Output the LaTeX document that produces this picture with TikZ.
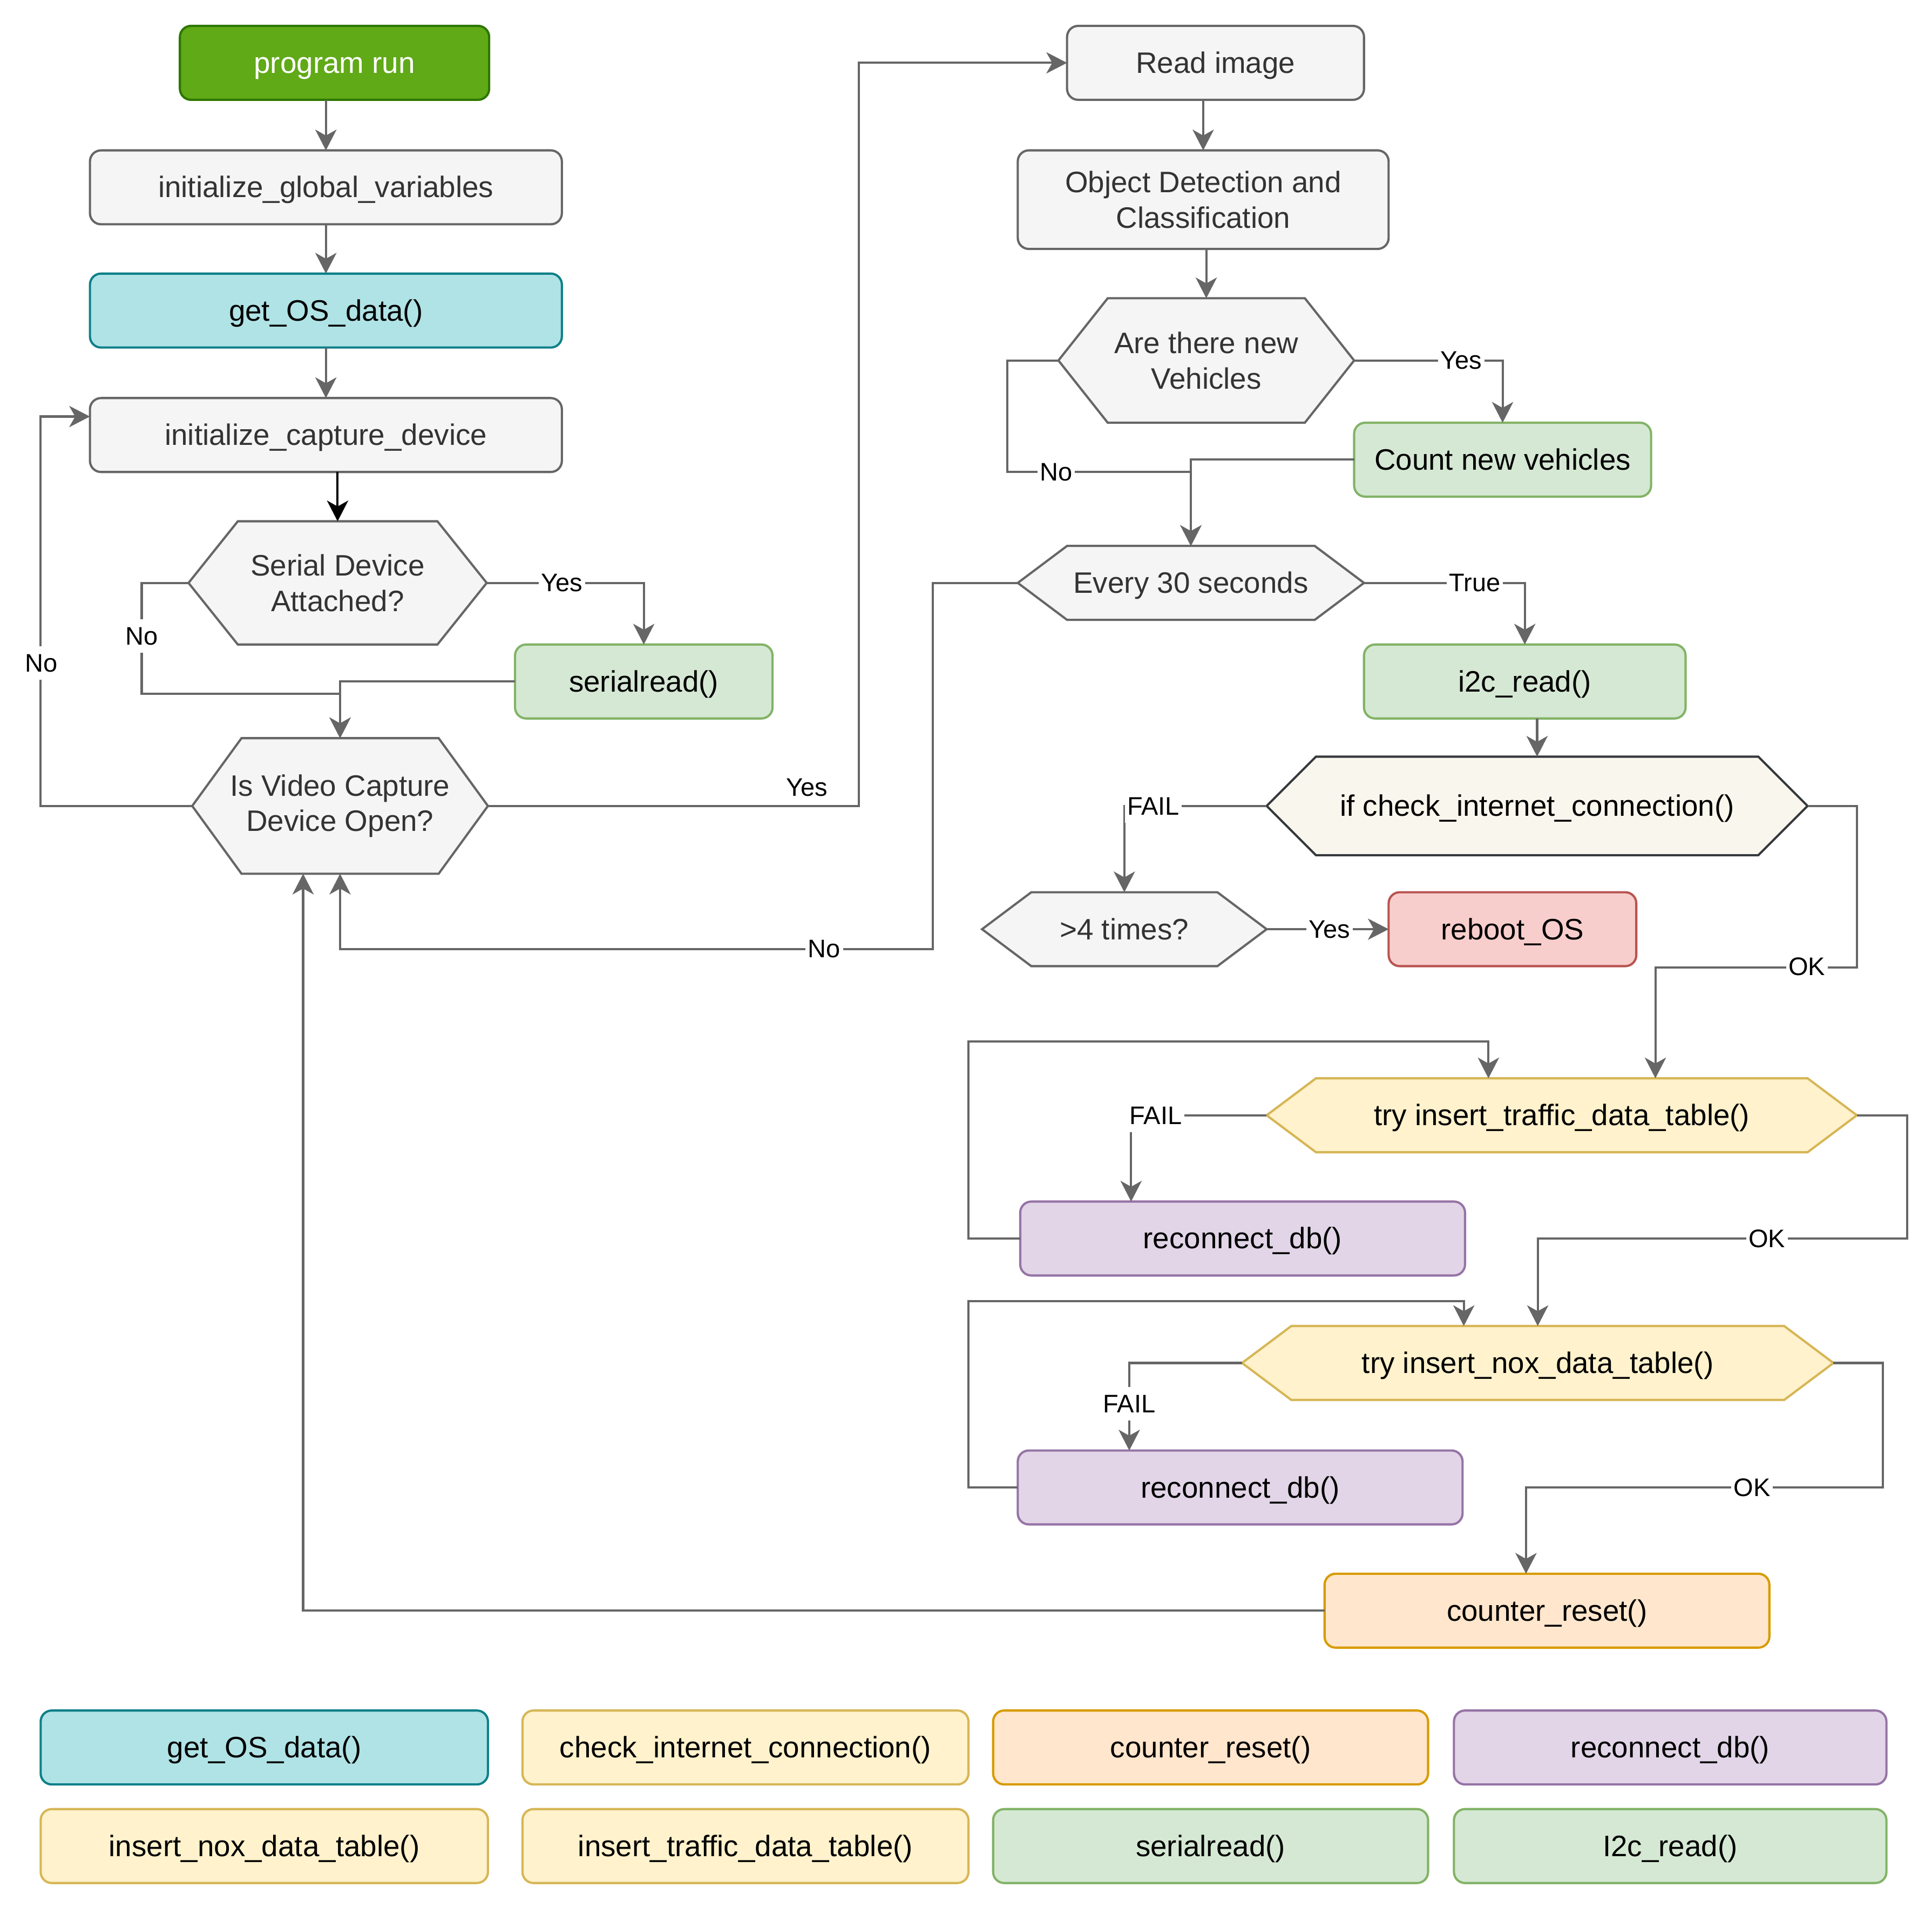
\documentclass[tikz,border=0pt]{standalone}
\usepackage{fontspec}
\setmainfont{Liberation Sans}
\usetikzlibrary{arrows.meta,calc}
\definecolor{grayfill}{HTML}{F5F5F5}
\definecolor{graystroke}{HTML}{666666}
\definecolor{graytext}{HTML}{333333}
\definecolor{prfill}{HTML}{60A917}
\definecolor{prstroke}{HTML}{2D7600}
\definecolor{osfill}{HTML}{B0E3E6}
\definecolor{osstroke}{HTML}{0E8088}
\definecolor{grfill}{HTML}{D5E8D4}
\definecolor{grstroke}{HTML}{82B366}
\definecolor{yefill}{HTML}{FFF2CC}
\definecolor{yestroke}{HTML}{D6B656}
\definecolor{orfill}{HTML}{FFE6CC}
\definecolor{orstroke}{HTML}{D79B00}
\definecolor{pufill}{HTML}{E1D5E7}
\definecolor{pustroke}{HTML}{9673A6}
\definecolor{redfill}{HTML}{F8CECC}
\definecolor{redstroke}{HTML}{B85450}
\definecolor{chkfill}{HTML}{F9F7ED}
\definecolor{chkstroke}{HTML}{36393D}
\newcommand\mainsz{\fontsize{12pt}{14.4pt}\selectfont}
\newcommand\lblsz{\fontsize{10.3pt}{12pt}\selectfont}
\tikzset{
  box/.style={draw, rounded corners=4.5pt, line width=0.9pt, inner sep=2pt, outer sep=0pt, align=center, font=\mainsz},
  oneline/.style={text height=10.9pt, text depth=2.6pt},
  graybox/.style={box, fill=grayfill, draw=graystroke, text=graytext},
  osbox/.style={box, oneline, fill=osfill, draw=osstroke, text=black},
  grbox/.style={box, oneline, fill=grfill, draw=grstroke, text=black},
  yebox/.style={box, oneline, fill=yefill, draw=yestroke, text=black},
  orbox/.style={box, oneline, fill=orfill, draw=orstroke, text=black},
  pubox/.style={box, oneline, fill=pufill, draw=pustroke, text=black},
  redbox/.style={box, oneline, fill=redfill, draw=redstroke, text=black},
  hexshape/.style={line width=0.9pt, line join=miter},
  grayhex/.style={hexshape, fill=grayfill, draw=graystroke},
  yehex/.style={hexshape, fill=yefill, draw=yestroke},
  chkhex/.style={hexshape, fill=chkfill, draw=chkstroke},
  hexlabel/.style={inner sep=0pt, outer sep=0pt, align=center, font=\mainsz},
  conn/.style={draw=graystroke, line width=0.9pt, -{Stealth[length=8.4pt,width=8.6pt,inset=2.4pt]}},
  elabel/.style={fill=white, inner sep=1pt, font=\lblsz, text=black, text height=9.4pt, text depth=2.26pt},
}
% name, cx, cy, half width, half height, shape style, text style, text
\newcommand\hexnode[8]{%
  \path[#6] ({#2-#4},#3) -- ({#2-#4+40},{#3-#5}) -- ({#2+#4-40},{#3-#5}) -- ({#2+#4},#3) -- ({#2+#4-40},{#3+#5}) -- ({#2-#4+40},{#3+#5}) -- cycle;
  \node[hexlabel,#7,minimum width=#4pt,minimum height=#5pt] (#1) at (#2,#3) {#8};
}
\begin{document}
\begin{tikzpicture}[x=0.5pt,y=-0.5pt]
\useasboundingbox[fill=white] (0,0) rectangle (1568,1548);

% left column
\node[box, oneline, fill=prfill, draw=prstroke, text=white, minimum width=125.5pt, minimum height=30pt] (pr) at (271.5,51) {program run};
\node[graybox, oneline, minimum width=191.5pt, minimum height=30pt] (igv) at (264.5,152) {initialize\_global\_variables};
\node[osbox, minimum width=191.5pt, minimum height=30pt] (gos) at (264.5,252) {get\_OS\_data()};
\node[graybox, oneline, minimum width=191.5pt, minimum height=30pt] (ic) at (264.5,353) {initialize\_capture\_device};
\hexnode{sda}{274}{473}{121}{50}{grayhex}{text=graytext}{Serial Device\\Attached?}
\node[grbox, minimum width=104.5pt, minimum height=30pt] (sr) at (522.5,553) {serialread()};
\hexnode{vid}{276}{654}{120}{55}{grayhex}{text=graytext}{Is Video Capture\\Device Open?}

% right column
\node[graybox, oneline, minimum width=120.5pt, minimum height=30pt] (ri) at (986.5,51) {Read image};
\node[graybox, minimum width=150.5pt, minimum height=40pt] (od) at (976.5,162) {Object Detection and\\Classification};
\hexnode{atn}{979}{292.5}{120}{50.5}{grayhex}{text=graytext}{Are there new\\Vehicles}
\node[grbox, minimum width=120.5pt, minimum height=30pt] (cnv) at (1219.5,373) {Count new vehicles};
\hexnode{e30}{966.5}{473}{140.5}{30}{grayhex}{text=graytext, oneline}{Every 30 seconds}
\node[grbox, minimum width=130.5pt, minimum height=30pt] (i2c) at (1237.5,553) {i2c\_read()};
\hexnode{chk}{1247.5}{654}{219.5}{40}{chkhex}{text=black, oneline}{if check\_internet\_connection()}
\hexnode{gt4}{912.5}{754}{115.5}{30}{grayhex}{text=graytext, oneline}{>4 times?}
\node[redbox, minimum width=100.5pt, minimum height=30pt] (rb) at (1227.5,754) {reboot\_OS};
\hexnode{tr}{1267.5}{905}{239.5}{30}{yehex}{text=black, oneline}{try insert\_traffic\_data\_table()}
\node[pubox, minimum width=180.5pt, minimum height=30pt] (rc1) at (1008.5,1005) {reconnect\_db()};
\hexnode{nox}{1248}{1106}{240}{30}{yehex}{text=black, oneline}{try insert\_nox\_data\_table()}
\node[pubox, minimum width=180.5pt, minimum height=30pt] (rc2) at (1006.5,1207) {reconnect\_db()};
\node[orbox, minimum width=180.5pt, minimum height=30pt] (cr) at (1255.5,1307) {counter\_reset()};

% legend
\node[osbox, minimum width=181.5pt, minimum height=30pt] (l1) at (214.5,1418) {get\_OS\_data()};
\node[yebox, minimum width=181pt, minimum height=30pt] (l2) at (605,1418) {check\_internet\_connection()};
\node[orbox, minimum width=176.5pt, minimum height=30pt] (l3) at (982.5,1418) {counter\_reset()};
\node[pubox, minimum width=175.5pt, minimum height=30pt] (l4) at (1355.5,1418) {reconnect\_db()};
\node[yebox, minimum width=181.5pt, minimum height=30pt] (l5) at (214.5,1498) {insert\_nox\_data\_table()};
\node[yebox, minimum width=181pt, minimum height=30pt] (l6) at (605,1498) {insert\_traffic\_data\_table()};
\node[grbox, minimum width=176.5pt, minimum height=30pt] (l7) at (982.5,1498) {serialread()};
\node[grbox, minimum width=175.5pt, minimum height=30pt] (l8) at (1355.5,1498) {I2c\_read()};

% connectors
\draw[conn] (igv.north |- pr.south) -- (igv.north);
\draw[conn] (igv.south) -- (gos.north);
\draw[conn] (gos.south) -- (ic.north);
\draw[conn, draw=black] (sda.north |- ic.south) -- (sda.north);
\draw[conn] (sda.east) -| (sr.north);
\draw[conn] (sda.west) -- ++(-38,0) |- ($(vid.north)+(0,-36)$) -- (vid.north);
\draw[conn] (sr.west) -| (vid.north);
\draw[conn] (vid.west) -- ++(-123,0) |- ($(ic.west)+(0,-15)$);
\draw[conn] (vid.east) -- ++(301,0) |- (ri.west);
\draw[conn] (od.north |- ri.south) -- (od.north);
\draw[conn] (atn.north |- od.south) -- (atn.north);
\draw[conn] (atn.east) -| (cnv.north);
\draw[conn] (atn.west) -- ++(-41.5,0) |- ($(e30.north)+(0,-60)$) -- (e30.north);
\draw[conn] (cnv.west) -| (e30.north);
\draw[conn] (e30.east) -| (i2c.north);
\draw[conn] (e30.west) -- ++(-69,0) |- ($(vid.south)+(0,61)$) -- (vid.south);
\draw[conn] (chk.north |- i2c.south) -- (chk.north);
\draw[conn] (chk.west) -| (gt4.north);
\draw[conn] (gt4.east) -- (rb.west);
\draw[conn] (chk.east) -- ++(40,0) |- ($(tr.north)+(76,-90)$) -- ($(tr.north)+(76,0)$);
\draw[conn] (tr.west) -| ($(rc1.north)+(-90.5,0)$);
\draw[conn] (rc1.west) -- ++(-42,0) |- ($(tr.north)+(-59.5,-30)$) -- ($(tr.north)+(-59.5,0)$);
\draw[conn] (tr.east) -- ++(41,0) |- ($(nox.north)+(0,-71)$) -- (nox.north);
\draw[conn] (nox.west) -| ($(rc2.north)+(-90,0)$);
\draw[conn] (rc2.west) -- ++(-40,0) |- ($(nox.north)+(-60,-20)$) -- ($(nox.north)+(-60,0)$);
\draw[conn] (nox.east) -- ++(40,0) |- ($(cr.north)+(-17,-70)$) -- ($(cr.north)+(-17,0)$);
\draw[conn] (cr.west) -| ($(vid.south)+(-30,0)$);

% connector labels
\node[elabel] (t1) at (456,473) {Yes};
\node[elabel] (t2) at (115,516) {No};
\node[elabel] (t3) at (33.5,538) {No};
\node[elabel, fill=none] (t4) at (655,639) {Yes};
\node[elabel] (t5) at (1186,292.5) {Yes};
\node[elabel] (t6) at (857,383) {No};
\node[elabel] (t7) at (1197,473) {True};
\node[elabel] (t8) at (669,770) {No};
\node[elabel] (t9) at (936,654) {FAIL};
\node[elabel] (t10) at (1079,754) {Yes};
\node[elabel] (t11) at (1466.5,784.5) {OK};
\node[elabel] (t12) at (938,905) {FAIL};
\node[elabel] (t13) at (1434,1005) {OK};
\node[elabel] (t14) at (916.5,1139) {FAIL};
\node[elabel] (t15) at (1422,1207) {OK};
\end{tikzpicture}
\end{document}
